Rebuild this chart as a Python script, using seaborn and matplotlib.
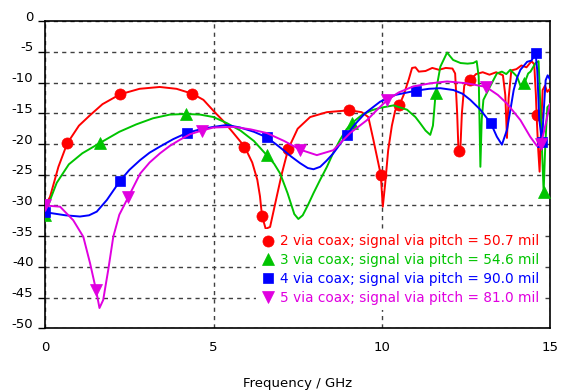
import numpy as np
import pandas as pd
import matplotlib
matplotlib.use("Agg")
import matplotlib.pyplot as plt
from matplotlib.transforms import ScaledTranslation
import seaborn as sns

# Insertion loss (dB) versus frequency (GHz) for the four coax via layouts
freq_2 = [0.0, 0.14, 0.39, 0.65, 1.0, 1.33, 1.7, 2.22, 2.8, 3.4, 3.9, 4.37, 4.7, 5.0, 5.3,
          5.59, 5.92, 6.15, 6.3, 6.38, 6.44, 6.55, 6.68, 6.78, 6.88, 7.03, 7.22, 7.5, 7.87,
          8.37, 9.03, 9.4, 9.6, 9.75, 9.97, 10.03, 10.1, 10.19, 10.3, 10.4, 10.52, 10.65,
          10.8, 10.9, 11.0, 11.1, 11.3, 11.5, 11.7, 11.9, 12.1, 12.18, 12.24, 12.28, 12.33,
          12.38, 12.45, 12.55, 12.63, 12.8, 13.0, 13.2, 13.4, 13.6, 13.67, 13.72, 13.77,
          13.85, 14.0, 14.15, 14.3, 14.45, 14.53, 14.58, 14.6, 14.65, 14.69, 14.73, 14.78,
          14.85, 14.92, 15.0]
loss_2 = [-30.0, -28.6, -23.7, -19.9, -17.0, -15.3, -13.5, -11.9, -11.0, -10.7, -11.0, -11.8,
          -12.8, -14.6, -16.3, -18.2, -20.4, -23.0, -25.8, -28.5, -31.7, -33.8, -33.5, -31.0,
          -28.5, -24.8, -20.8, -17.5, -15.6, -14.8, -14.5, -14.8, -15.6, -19.3, -25.0, -30.2,
          -26.5, -21.0, -17.0, -14.5, -13.7, -12.0, -9.5, -7.6, -7.5, -8.2, -8.1, -7.6, -7.9,
          -7.6, -7.7, -8.5, -15.0, -21.2, -21.5, -15.0, -10.5, -9.6, -9.6, -8.6, -8.3, -8.7,
          -8.3, -8.8, -12.0, -19.0, -12.5, -8.0, -7.8, -7.2, -7.5, -6.5, -7.0, -12.0, -15.2,
          -21.0, -24.5, -18.0, -11.2, -10.5, -11.5, -11.0]
marks_2 = [0.65, 2.22, 4.37, 5.92, 6.44, 7.22, 9.03, 9.97, 10.52, 12.28, 12.63, 14.6]

freq_3 = [0.0, 0.15, 0.34, 0.7, 1.1, 1.63, 2.2, 2.7, 3.2, 3.7, 4.18, 4.6, 5.0, 5.4, 5.8, 6.2,
          6.58, 6.8, 6.98, 7.2, 7.4, 7.52, 7.65, 7.8, 7.97, 8.17, 8.37, 8.56, 8.76, 8.95, 9.11,
          9.4, 9.7, 9.95, 10.35, 10.75, 11.0, 11.14, 11.3, 11.44, 11.52, 11.6, 11.74, 11.94,
          12.12, 12.34, 12.55, 12.72, 12.82, 12.88, 12.93, 12.97, 13.02, 13.22, 13.42, 13.57,
          13.7, 13.82, 14.02, 14.12, 14.24, 14.35, 14.42, 14.57, 14.66, 14.72, 14.81, 14.86,
          14.92, 15.0]
loss_3 = [-31.5, -29.0, -26.3, -23.3, -21.5, -19.8, -18.0, -16.8, -15.8, -15.2, -15.1, -15.2,
          -15.6, -16.6, -17.8, -19.5, -21.8, -23.2, -24.8, -28.0, -31.4, -32.2, -31.6, -30.0,
          -28.0, -25.8, -23.7, -21.4, -19.3, -17.6, -16.6, -15.3, -14.5, -14.1, -13.7, -14.4,
          -15.6, -16.6, -17.8, -18.5, -17.0, -11.7, -7.4, -5.1, -6.3, -6.8, -6.9, -6.8, -6.5,
          -9.0, -23.7, -16.0, -12.8, -10.6, -8.5, -8.2, -8.6, -7.9, -9.0, -10.5, -10.1, -8.5,
          -8.2, -6.8, -6.5, -15.0, -27.8, -20.0, -14.0, -13.5]
marks_3 = [0.0, 1.63, 4.18, 6.58, 9.11, 11.6, 14.24, 14.81]

freq_4 = [0.0, 0.24, 0.6, 1.03, 1.3, 1.53, 1.83, 2.22, 2.5, 2.82, 3.1, 3.41, 3.8, 4.2, 4.6, 5.0,
          5.39, 5.79, 6.2, 6.58, 6.85, 7.08, 7.3, 7.57, 7.8, 7.97, 8.17, 8.36, 8.56, 8.76, 8.96,
          9.2, 9.5, 9.95, 10.4, 11.02, 11.4, 11.74, 12.13, 12.4, 12.63, 12.93, 13.24, 13.42,
          13.57, 13.72, 13.82, 13.92, 14.02, 14.12, 14.32, 14.45, 14.57, 14.62, 14.68, 14.76,
          14.82, 14.87, 14.93, 15.0]
loss_4 = [-31.1, -31.3, -31.6, -31.8, -31.6, -31.0, -29.1, -26.0, -24.2, -22.6, -21.4, -20.4,
          -19.2, -18.2, -17.6, -17.2, -16.9, -17.3, -18.0, -18.9, -20.0, -21.0, -22.0, -23.1,
          -23.9, -24.1, -23.7, -22.7, -21.5, -20.0, -18.5, -16.8, -15.0, -13.1, -12.0, -11.3,
          -11.0, -10.9, -11.2, -11.8, -12.8, -14.4, -16.6, -18.8, -20.1, -17.7, -14.5, -11.2,
          -9.2, -7.9, -6.6, -6.4, -5.2, -8.0, -16.0, -19.6, -14.0, -9.6, -8.8, -9.5]
marks_4 = [0.0, 2.22, 4.2, 6.58, 8.96, 11.02, 13.24, 14.57, 14.76]

freq_5 = [0.0, 0.44, 0.83, 1.13, 1.33, 1.51, 1.61, 1.72, 1.87, 2.02, 2.2, 2.47, 2.82, 3.1, 3.41,
          3.7, 4.0, 4.3, 4.65, 5.0, 5.59, 6.1, 6.58, 7.1, 7.57, 8.07, 8.56, 9.06, 9.56, 9.9,
          10.15, 10.5, 10.94, 11.45, 11.94, 12.53, 13.1, 13.45, 13.72, 14.12, 14.41, 14.61,
          14.72, 14.81, 14.9, 15.0]
loss_5 = [-30.0, -30.2, -32.4, -35.1, -39.4, -43.8, -46.7, -45.4, -40.5, -35.1, -31.5, -28.6,
          -24.8, -23.0, -21.5, -20.3, -19.3, -18.4, -17.8, -17.3, -17.2, -17.6, -18.2, -19.5,
          -20.9, -21.8, -21.0, -18.2, -16.1, -14.2, -12.9, -11.6, -10.6, -10.1, -9.8, -10.1,
          -10.7, -12.0, -13.4, -16.1, -18.8, -20.3, -20.0, -18.2, -16.0, -13.4]
marks_5 = [0.0, 1.51, 2.47, 4.65, 7.57, 10.15, 13.1, 14.72]

labels = ["2 via coax; signal via pitch = 50.7 mil",
          "3 via coax; signal via pitch = 54.6 mil",
          "4 via coax; signal via pitch = 90.0 mil",
          "5 via coax; signal via pitch = 81.0 mil"]
colors = ["#ff0000", "#00c400", "#0000ff", "#e000e0"]
markers = ["o", "^", "s", "v"]
marker_sizes = [8, 8.5, 7.5, 8.5]

x_ticks = [0, 5, 10, 15]
y_ticks = [0, -5, -10, -15, -20, -25, -30, -35, -40, -45, -50]

sns.set_theme(style="white")
plt.rcParams["font.family"] = ["DejaVu Sans"]

fig = plt.figure(figsize=(5.62, 3.91), dpi=100)
ax = fig.add_axes([0.0806, 0.1604, 0.8981, 0.7852])

series = [(freq_2, loss_2, marks_2), (freq_3, loss_3, marks_3),
          (freq_4, loss_4, marks_4), (freq_5, loss_5, marks_5)]
for (f, v, m), lab, col, mk, ms in zip(series, labels, colors, markers, marker_sizes):
    df = pd.DataFrame({"f": f, "v": v})
    idx = [int(np.argmin(np.abs(np.asarray(f) - p))) for p in m]
    sns.lineplot(data=df, x="f", y="v", ax=ax, color=col, linewidth=1.4,
                 marker=mk, markersize=ms, markevery=idx, markeredgecolor=col,
                 markeredgewidth=0.5, label=lab, sort=False, estimator=None, zorder=3)

ax.set_xlim(0, 15)
ax.set_ylim(-50, 0)
ax.set_xticks(x_ticks)
ax.set_yticks(y_ticks)
ax.set_xticklabels([str(t) for t in x_ticks])
ax.set_yticklabels([str(t) for t in y_ticks])
ax.set_xlabel("Frequency / GHz", fontsize=9.5, color="black", labelpad=17)
ax.set_ylabel("")

ax.grid(True, color="#404040", linestyle=(0, (3, 3)), linewidth=1.0)
ax.set_axisbelow(True)
for s in ax.spines.values():
    s.set_color("black")
    s.set_linewidth(1.2)
    s.set_visible(True)

ax.tick_params(axis="x", length=0, pad=9, labelsize=9.5, colors="black")
ax.tick_params(axis="y", left=True, length=5, width=1.0, pad=3.5, labelsize=9.5,
               colors="black", direction="out")
offset = ScaledTranslation(0, 4 / 72, fig.dpi_scale_trans)
for lbl in ax.get_yticklabels():
    lbl.set_transform(lbl.get_transform() + offset)

leg = ax.legend(loc="upper left", bbox_to_anchor=(0.4555, 0.4143),
                bbox_transform=fig.transFigure, frameon=True, facecolor="white",
                edgecolor="none", framealpha=1.0, fancybox=False, fontsize=9.8,
                handlelength=1.0, handletextpad=0.4, labelspacing=0.35, borderpad=0.4,
                borderaxespad=0)
for h in leg.legend_handles:
    h.set_linestyle("None")
for t, col in zip(leg.get_texts(), colors):
    t.set_color(col)

fig.savefig("out.png", dpi=100)
